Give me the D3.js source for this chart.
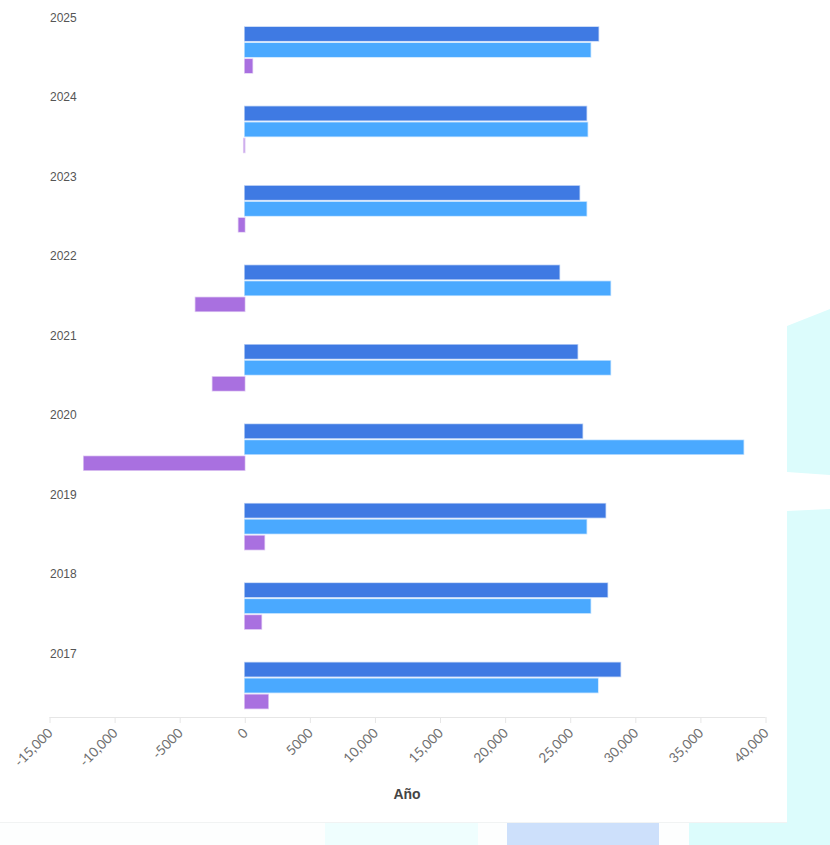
<!DOCTYPE html>
<html><head><meta charset="utf-8">
<script src="https://cdn.jsdelivr.net/npm/d3@7/dist/d3.min.js"></script>
<style>body{margin:0;background:#fff;}svg{display:block;font-family:"Liberation Sans",Arial,sans-serif;}</style>
</head><body>
<svg id="c" width="830" height="845"></svg>
<script>
const years = ["2025","2024","2023","2022","2021","2020","2019","2018","2017"];
const seriesNames = ["a","b","diff"];
const seriesA = [27170, 26250, 25710, 24170, 25560, 25940, 27710, 27860, 28860];
const seriesB = [26560, 26330, 26250, 28090, 28090, 38310, 26250, 26560, 27130];
const seriesDiff = [590, -80, -480, -3790, -2480, -12370, 1510, 1280, 1800];
const tickValues = [-15000,-10000,-5000,0,5000,10000,15000,20000,25000,30000,35000,40000];
const tickLabels = ["-15,000","-10,000","-5000","0","5000","10,000","15,000","20,000","25,000","30,000","35,000","40,000"];
const colors = ["#3f7ae3","#4aa9ff","#a970e0"];
const axisTitle = "Año";

const svg = d3.select("#c");
// background decoration
svg.append("rect").attr("x",0).attr("y",822).attr("width",830).attr("height",23).attr("fill","#fdfefe");
svg.append("line").attr("x1",0).attr("x2",787).attr("y1",822.5).attr("y2",822.5).attr("stroke","#f1f3f3");
svg.append("rect").attr("x",325).attr("y",823).attr("width",153).attr("height",22).attr("fill","#effefe");
svg.append("rect").attr("x",507).attr("y",823).attr("width",152).attr("height",22).attr("fill","#cde0fb");
svg.append("rect").attr("x",689).attr("y",823).attr("width",141).attr("height",22).attr("fill","#dcfcfc");
svg.append("polygon").attr("points","787,326 830,309 830,475 787,472").attr("fill","#dcfcfc");
svg.append("polygon").attr("points","787,511 830,509 830,845 787,845").attr("fill","#dcfcfc");

const x = d3.scaleLinear().domain([-15000,40000]).range([49.5,765.5]);
const y0 = d3.scaleBand().domain(years).range([2,717]);
const y1 = d3.scaleBand().domain(seriesNames).range([25,71]).paddingInner(0.13);

const data = years.map((yr,i)=>({year:yr, vals:[seriesA[i],seriesB[i],seriesDiff[i]]}));

// axis
const ax = svg.append("g").attr("transform","translate(0,717)");
ax.append("line").attr("x1",x(-15000)).attr("x2",x(40000)).attr("y1",0.5).attr("y2",0.5).attr("stroke","#e6e6e6");
const tk = ax.selectAll("g.t").data(tickValues).join("g").attr("class","t")
  .attr("transform",d=>`translate(${x(d)},0)`);
tk.append("line").attr("x1",0.5).attr("x2",0.5).attr("y1",0).attr("y2",6).attr("stroke","#e6e6e6");
tk.append("text").attr("text-anchor","end").attr("transform","translate(4,17) rotate(-45)")
  .attr("font-size",13.5).attr("font-family","Lato, sans-serif").attr("fill","#707070").text((d,i)=>tickLabels[i]);

svg.append("text").attr("x",407).attr("y",799).attr("text-anchor","middle")
  .attr("font-size",14).attr("font-weight","bold").attr("fill","#444").text(axisTitle);

const g = svg.selectAll("g.grp").data(data).join("g").attr("class","grp")
  .attr("transform",d=>`translate(0,${y0(d.year)})`);
g.append("text").attr("x",50).attr("y",20).attr("font-size",12).attr("fill","#555").text(d=>d.year);
g.selectAll("rect").data(d=>d.vals.map((v,j)=>({v,j}))).join("rect")
  .attr("x",d=>x(Math.min(0,d.v)))
  .attr("width",d=>Math.max(1,Math.abs(x(d.v)-x(0))))
  .attr("y",d=>y1(seriesNames[d.j]))
  .attr("height",y1.bandwidth())
  .attr("fill",d=>colors[d.j])
  .attr("stroke",d=>colors[d.j]).attr("stroke-opacity",0.35).attr("stroke-width",1.5)
  .attr("fill-opacity",d=>Math.abs(d.v)<200?0.4:1);
</script>
</body></html>
